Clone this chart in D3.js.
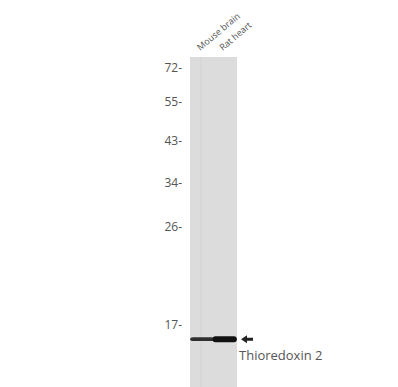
<!DOCTYPE html>
<html>
<head>
<meta charset="utf-8">
<script src="https://cdn.jsdelivr.net/npm/d3@7"></script>
<style>
  body { margin: 0; background: #fff; }
  svg { display: block; }
</style>
</head>
<body>
<div id="blot"></div>
<script>
// marker ladder (kDa) and relative migration on the membrane (0 = top, 1 = bottom)
const markers = [72, 55, 43, 34, 26, 17];
const markerRf = [0.033, 0.136, 0.255, 0.382, 0.515, 0.812];

const lanes = ["Mouse brain", "Rat heart"];
// band for each lane: migration, intensity (0-1), relative thickness
const bandRf = [0.855, 0.855];
const bandIntensity = [0.85, 1.0];
const bandThickness = [0.6, 1.0];
const target = "Thioredoxin 2";

const width = 398, height = 387;
const gel = {left: 190, right: 237, top: 57, bottom: 387};

const svg = d3.select("#blot")
  .append("svg")
  .attr("width", width)
  .attr("height", height);

// y scale maps migration to pixels
const yScale = d3.scaleLinear()
  .domain([0, 1])
  .range([gel.top, gel.bottom]);

// lanes
const xScale = d3.scaleBand()
  .domain(lanes)
  .range([gel.left, gel.right])
  .paddingInner(0)
  .paddingOuter(0.05);

// membrane strip
svg.append("rect")
  .attr("x", gel.left)
  .attr("y", gel.top)
  .attr("width", gel.right - gel.left)
  .attr("height", gel.bottom - gel.top)
  .style("fill", "#dcdcdc");

// faint lane edge
svg.append("line")
  .attr("x1", gel.left + 11).attr("x2", gel.left + 11)
  .attr("y1", gel.top).attr("y2", gel.bottom)
  .style("stroke", "#d2d2d2")
  .style("stroke-width", 1);

// bands
const bands = lanes.map((l, i) => ({lane: l, rf: bandRf[i], k: bandIntensity[i], t: bandThickness[i]}));
const grey = d3.interpolateRgb("#dcdcdc", "#111");
svg.selectAll("rect.band")
  .data(bands)
  .join("rect")
    .attr("class", "band")
    .attr("x", d => xScale(d.lane) - 1)
    .attr("width", xScale.bandwidth() + 2)
    .attr("y", d => yScale(d.rf) - 3 * d.t)
    .attr("height", d => 6 * d.t)
    .attr("rx", 3)
    .style("fill", d => grey(d.k));

// marker labels
svg.selectAll("text.marker")
  .data(markers)
  .join("text")
    .attr("class", "marker")
    .attr("x", gel.left - 8)
    .attr("y", (d, i) => yScale(markerRf[i]))
    .attr("dy", "0.35em")
    .attr("text-anchor", "end")
    .style("font-family", "'Open Sans', sans-serif")
    .style("font-size", "12px")
    .style("fill", "#555")
    .text(d => d + "-");

// lane labels, rotated
svg.selectAll("text.lane")
  .data(lanes)
  .join("text")
    .attr("class", "lane")
    .attr("transform", d => `translate(${xScale(d) + xScale.bandwidth() / 2 - 2},${gel.top - 6}) rotate(-40)`)
    .style("font-family", "'Open Sans', sans-serif")
    .style("font-size", "9px")
    .style("fill", "#555")
    .text(d => d);

// arrow + target label
const yBand = yScale(d3.max(bandRf));
svg.append("path")
  .attr("d", d3.line()([[gel.right + 4, yBand], [gel.right + 10, yBand - 4], [gel.right + 10, yBand - 1.5],
    [gel.right + 16, yBand - 1.5], [gel.right + 16, yBand + 1.5], [gel.right + 10, yBand + 1.5],
    [gel.right + 10, yBand + 4]]) + "Z")
  .style("fill", "#222");

svg.append("text")
  .attr("x", gel.right + 2)
  .attr("y", yBand + 21)
  .style("font-family", "'Open Sans', sans-serif")
  .style("font-size", "13px")
  .style("fill", "#555")
  .text(target);
</script>
</body>
</html>
